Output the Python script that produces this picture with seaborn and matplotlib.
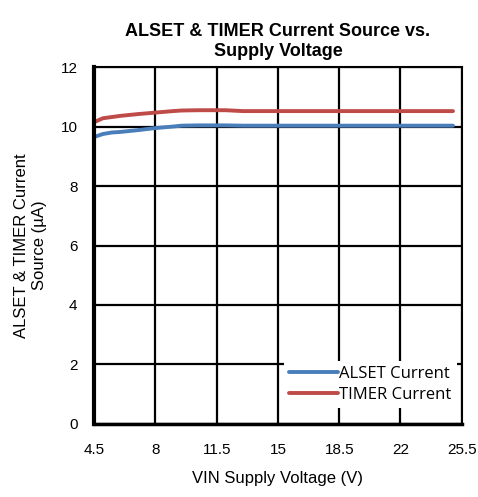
import matplotlib
matplotlib.use("Agg")
import matplotlib.pyplot as plt
import seaborn as sns
import pandas as pd

vin = [4.5, 5.0, 5.5, 6.0, 7.0, 8.0, 9.0, 9.5, 10.5, 11.5, 12.0, 13.0, 15.0, 18.5, 22.0, 25.0]
alset = [9.65, 9.75, 9.8, 9.82, 9.88, 9.95, 10.0, 10.03, 10.04, 10.04, 10.04, 10.03, 10.03, 10.03, 10.03, 10.03]
timer = [10.15, 10.28, 10.32, 10.36, 10.42, 10.47, 10.52, 10.54, 10.55, 10.55, 10.55, 10.52, 10.52, 10.52, 10.52, 10.52]
xticks = [4.5, 8, 11.5, 15, 18.5, 22, 25.5]
yticks = [0, 2, 4, 6, 8, 10, 12]

df = pd.DataFrame({
    "VIN": vin * 2,
    "Current": alset + timer,
    "Series": ["ALSET Current"] * len(vin) + ["TIMER Current"] * len(vin),
})

sns.set_style("white")
plt.rcParams['font.family'] = ['Liberation Sans', 'DejaVu Sans']
plt.rcParams['text.color'] = 'black'
plt.rcParams['axes.labelcolor'] = 'black'
plt.rcParams['xtick.color'] = 'black'
plt.rcParams['ytick.color'] = 'black'

fig = plt.figure(figsize=(4.78, 4.97), dpi=100)
ax = fig.add_axes([0.197, 0.147, 0.769, 0.718])

sns.lineplot(data=df, x="VIN", y="Current", hue="Series",
             palette={"ALSET Current": "#4a7ebb", "TIMER Current": "#be4b48"},
             linewidth=2.8, ax=ax, legend=True)

ax.set_xlim(4.5, 25.5)
ax.set_ylim(0, 12)
ax.set_xticks(xticks)
ax.set_xticklabels(["4.5", "8", "11.5", "15", "18.5", "22", "25.5"])
ax.set_yticks(yticks)
ax.grid(True, color="black", linewidth=1.6)
ax.set_axisbelow(True)
for s in ["top", "right"]:
    ax.spines[s].set_linewidth(1.5)
    ax.spines[s].set_color("black")
ax.spines["left"].set_linewidth(3)
ax.spines["bottom"].set_linewidth(2.5)
ax.spines["left"].set_color("black")
ax.spines["bottom"].set_color("black")
ax.tick_params(axis="both", length=0, labelsize=11, pad=14, labelcolor="black")
ax.tick_params(axis="y", pad=12)

ax.set_title("ALSET & TIMER Current Source vs.\nSupply Voltage", fontsize=13,
             fontweight="bold", pad=8, color="black")
ax.set_xlabel("VIN Supply Voltage (V)", fontsize=12, labelpad=10, color="black")
ax.set_ylabel("ALSET & TIMER Current\nSource (\u00b5A)", fontsize=12, labelpad=10, color="black")

leg = ax.legend(loc="lower right", bbox_to_anchor=(1.0, 0.03), frameon=True,
                fancybox=False, edgecolor="white", framealpha=1,
                fontsize=12, handlelength=2.9, handletextpad=0.1,
                borderpad=0.3, labelspacing=0.3, borderaxespad=0.3)
leg.get_frame().set_linewidth(0)
for t in leg.get_texts():
    t.set_family(['Open Sans', 'DejaVu Sans'])
    t.set_color("black")

fig.savefig("out.png", dpi=100, facecolor="white")
